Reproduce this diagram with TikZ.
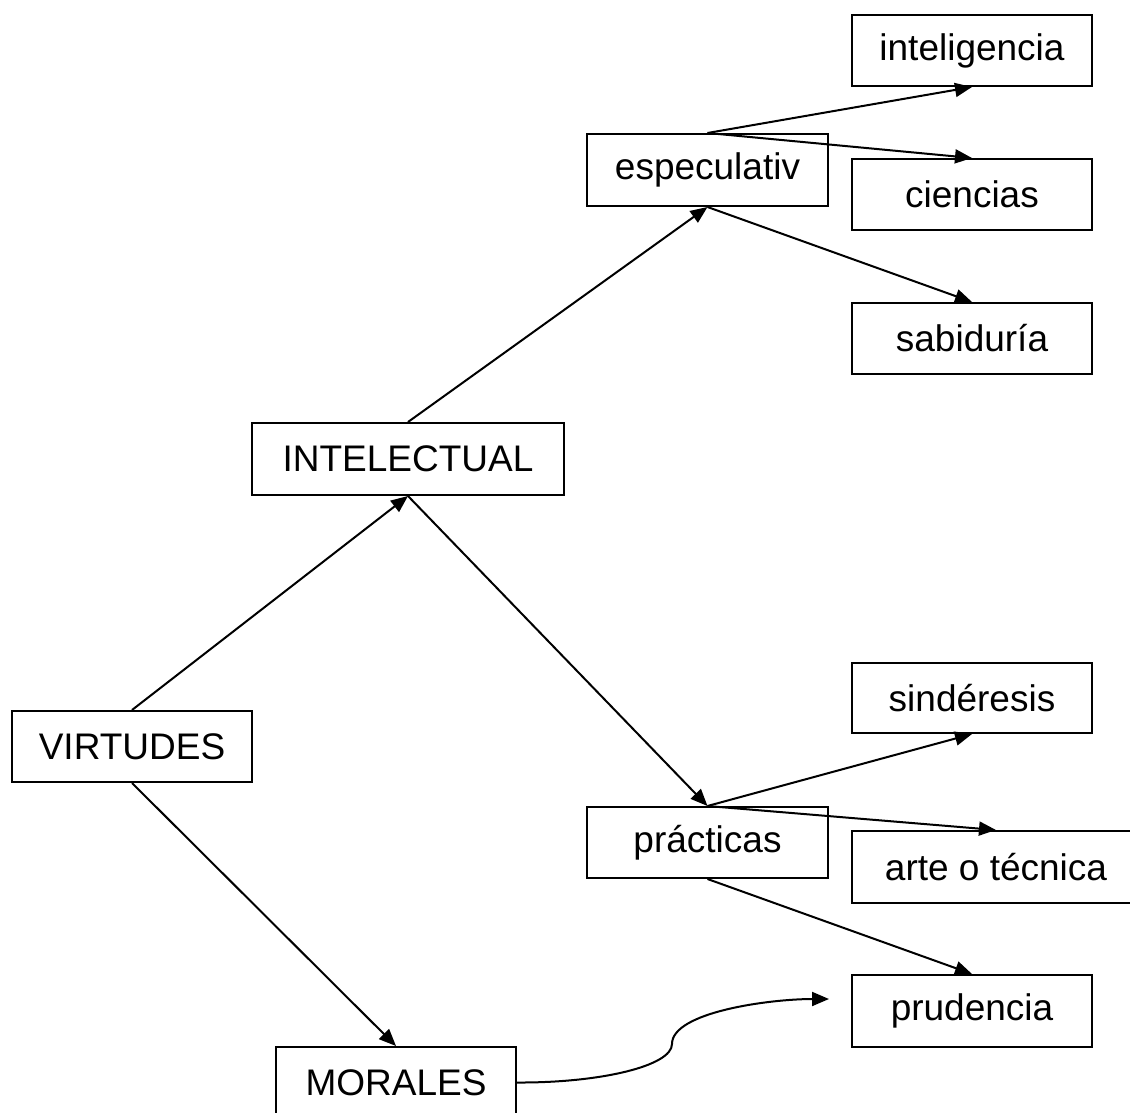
\documentclass[tikz,border=0pt]{standalone}
\usepackage{fontspec}
\setmainfont{Liberation Sans}
\usetikzlibrary{arrows.meta}
\begin{document}
\begin{tikzpicture}[x=0.5pt,y=-0.5pt,
  box/.style={draw,line width=1pt,inner sep=0pt,minimum width=120pt,minimum height=35.5pt,
    font=\fontsize{18.5}{22}\selectfont},
  link/.style={line width=1pt,-{Triangle[length=8.5pt,width=7pt]}}]
\useasboundingbox (0,0) rectangle (1130,1113);

% boxes
\node[box] (intel) at (972,50.5) {inteligencia};
\node[box,minimum width=120.5pt,minimum height=36pt] (esp) at (707.5,170) {especulativ};
\node[box] (cien) at (972,194.5) {ciencias};
\node[box] (sab) at (972,338.5) {sabiduría};
\node[box,minimum width=156pt,minimum height=36pt] (int) at (408,459) {INTELECTUAL};
\node[box] (vir) at (132,746.5) {VIRTUDES};
\node[box,minimum height=35pt] (sind) at (972,698) {sindéresis};
\node[box,minimum width=120.5pt] (prac) at (707.5,842.5) {prácticas};
\node[box,minimum width=144pt,minimum height=36pt] (arte) at (996,867) {arte o técnica};
\node[box,minimum height=36pt] (prud) at (972,1011) {prudencia};
\node[box] (mor) at (396,1082.5) {MORALES};

% connectors
\draw[link] (vir.north) -- (int.south);
\draw[link] (vir.south) -- (mor.north);
\draw[link] (int.north) -- (esp.south);
\draw[link] (int.south) -- (prac.north);
\draw[link] (esp.north) -- (intel.south);
\draw[link] (esp.north) -- (cien.north);
\draw[link] (esp.south) -- (sab.north);
\draw[link] (prac.north) -- (sind.south);
\draw[link] (prac.north) -- (arte.north);
\draw[link] (prac.south) -- (prud.north);

\coordinate (mtip) at (829,999);
\draw[link] (mor.east) .. controls (600,1083) and (672,1066) .. (672,1044)
  .. controls (672,1012) and (770,999) .. (mtip);
\end{tikzpicture}
\end{document}
